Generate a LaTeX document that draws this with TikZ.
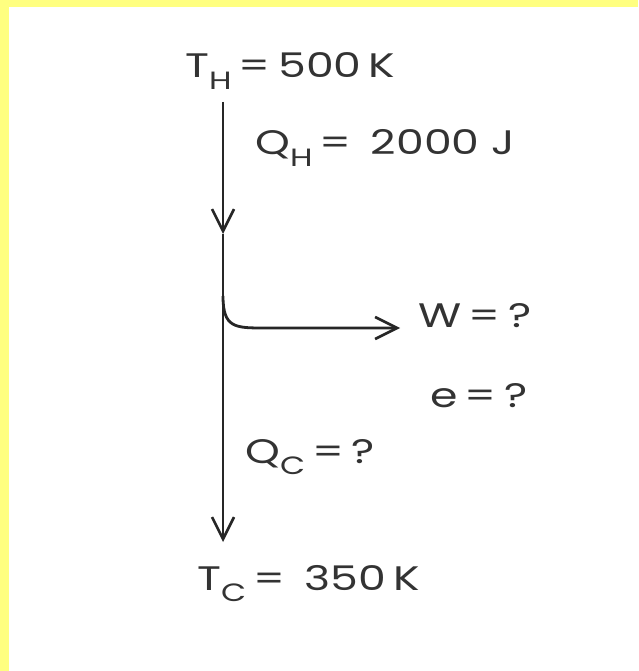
\documentclass[tikz,border=0pt]{standalone}
\usepackage{fontspec}
\setmainfont{Poppins}
\usetikzlibrary{arrows.meta}
\definecolor{bandyellow}{HTML}{FFFF80}
\definecolor{ink}{HTML}{333333}
\definecolor{lineink}{HTML}{262626}
\newcommand\lowsub[1]{\raisebox{-0.34em}{\fontsize{25}{25}\selectfont #1}}
\newcommand\wide[1]{\scalebox{1.3}[1]{#1}}
\tikzset{
  lbl/.style={anchor=base west, inner sep=0pt, text=ink, font=\fontsize{34}{34}\selectfont},
  flow/.style={draw=lineink, line width=2.8pt, -{Straight Barb[length=22pt,width=22pt,line width=2.6pt]}},
}
\begin{document}
\begin{tikzpicture}[x=1pt,y=-1pt]
\useasboundingbox (0,0) rectangle (638,671);
\fill[white] (0,0) rectangle (638,671);
\fill[bandyellow] (0,0) rectangle (638,7);
\fill[bandyellow] (0,0) rectangle (9,671);
% labels
\node[lbl] (TH) at (185,78) {\wide{T\lowsub{H}\,=\,500\,K}};
\node[lbl] (QH) at (255,155) {\wide{Q\lowsub{H}\,=\, 2000 J}};
\node[lbl] (W) at (418,327) {\wide{W\,=\,?}};
\node[lbl] (E) at (430,407) {\wide{e\,=\,?}};
\node[lbl] (QC) at (245,463) {\wide{Q\lowsub{C}\,=\,?}};
\node[lbl] (TC) at (197,590) {\wide{T\lowsub{C}\,=\, 350\,K}};
% connectors
\coordinate (top) at (223,102);
\coordinate (mid) at (223,234);
\coordinate (split) at (223,296);
\coordinate (bot) at (223,542);
\coordinate (wend) at (400,328);
\draw[flow] (top) -- (mid);
\draw[flow] (mid) -- (bot);
\draw[flow] (split) .. controls (223,328) and (235,328) .. (265,328) -- (wend);
\end{tikzpicture}
\end{document}
